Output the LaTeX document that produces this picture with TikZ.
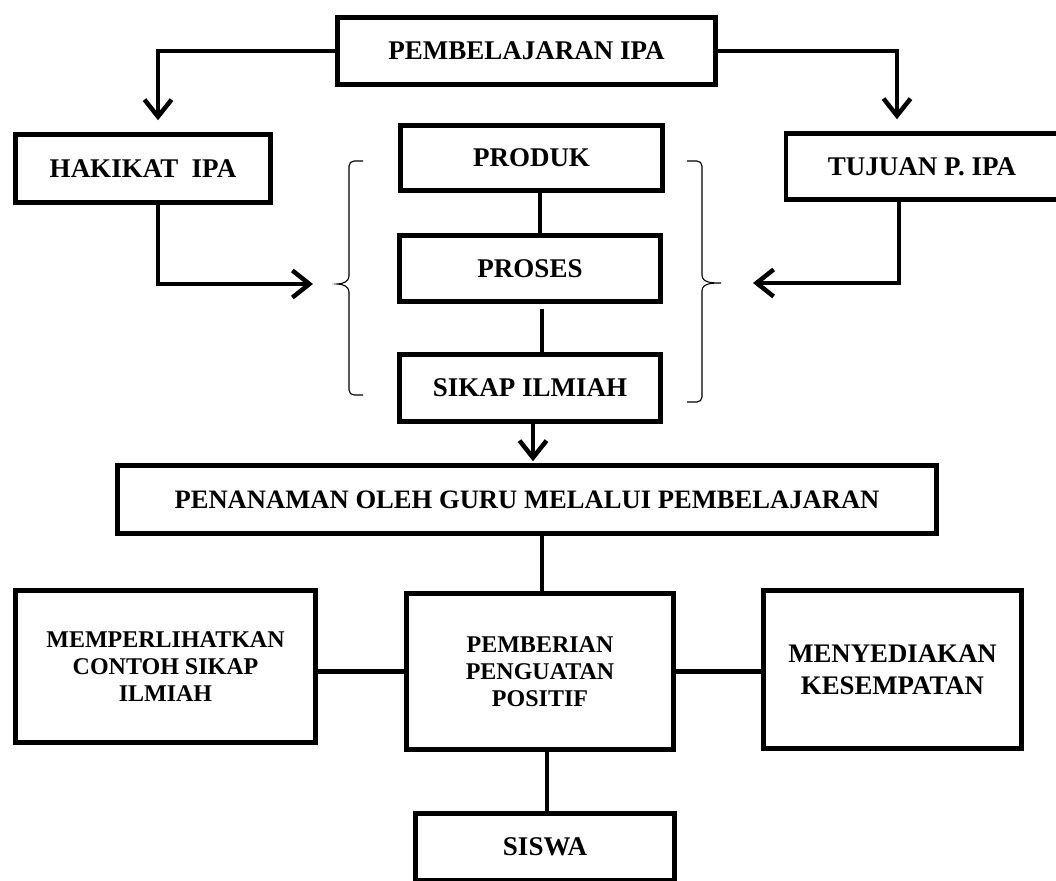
\documentclass[tikz,border=0pt]{standalone}
\usepackage{fontspec}
\setmainfont{Liberation Serif}
\usetikzlibrary{arrows.meta,calc}
\begin{document}
\begin{tikzpicture}[x=1pt,y=-1pt,
  box/.style={draw, line width=4.5pt, inner sep=2pt, align=center,
    font=\bfseries\fontsize{27}{28}\selectfont},
  multibox/.style={box, font=\bfseries\fontsize{24}{27}\selectfont},
  conn/.style={line width=4.5pt},
  arr/.style={conn, -{Straight Barb[length=17pt,width=27pt]}},
  bracestyle/.style={line width=1.1pt}]
\useasboundingbox (0,0) rectangle (1056,880);
% nodes
\node[box, minimum width=378pt, minimum height=67pt] (top) at (526.5,51) {PEMBELAJARAN IPA};
\node[box, minimum width=255pt, minimum height=68pt] (hak) at (143,168.5) {HAKIKAT\ \ IPA};
\node[box, minimum width=272pt, minimum height=66pt] (tuj) at (922,166.5) {TUJUAN P. IPA};
\node[box, minimum width=262pt, minimum height=65pt] (prod) at (531.5,158) {PRODUK};
\node[box, minimum width=261pt, minimum height=66pt] (pros) at (530,268.5) {PROSES};
\node[box, minimum width=261pt, minimum height=67pt] (sikap) at (530,388) {SIKAP ILMIAH};
\node[box, minimum width=819pt, minimum height=68pt, font=\bfseries\fontsize{26.6}{28}\selectfont] (pen) at (527,499.5) {PENANAMAN OLEH GURU MELALUI PEMBELAJARAN};
\node[multibox, minimum width=300pt, minimum height=152pt] (memp) at (165.5,666.5) {MEMPERLIHATKAN\\CONTOH SIKAP\\ILMIAH};
\node[multibox, minimum width=267pt, minimum height=156pt] (pemb) at (540,671.5) {PEMBERIAN\\PENGUATAN\\POSITIF};
\node[box, minimum width=258pt, minimum height=158pt, font=\bfseries\fontsize{26.8}{32}\selectfont] (meny) at (892.5,669.5) {MENYEDIAKAN\\KESEMPATAN};
\node[box, minimum width=259pt, minimum height=67pt] (siswa) at (545,846.75) {SISWA};
% brace tips
\coordinate (lbr) at (337,284);
\coordinate (rbr) at (721,283);
% braces
\draw[bracestyle] (363,161) -- (354,161) to[out=180,in=90] (349,166) -- (349,276)
  to[out=-90,in=0] (lbr) to[out=0,in=90] (349,292) -- (349,390)
  to[out=-90,in=180] (354,395) -- (363,395);
\draw[bracestyle] (687,161) -- (697,161) to[out=0,in=90] (702,166) -- (702,275)
  to[out=-90,in=180] (rbr) to[out=180,in=90] (702,291) -- (702,397)
  to[out=-90,in=0] (697,402) -- (687,402);
% connectors
\draw[arr, shorten >=12pt] (top.west) -| ([xshift=15pt]hak.north);
\draw[arr, shorten >=12pt] (top.east) -| ([xshift=-25pt]tuj.north);
\draw[arr, shorten >=24pt] ([xshift=15pt]hak.south) |- (lbr);
\draw[arr, shorten >=32pt] ([xshift=-23pt]tuj.south) |- (rbr);
\draw[conn] ([xshift=8.5pt]prod.south) -- ([xshift=8.5pt]prod.south |- pros.north);
\draw[conn, shorten <=5pt] ([xshift=12pt]pros.south) -- ([xshift=12pt]pros.south |- sikap.north);
\draw[arr, shorten >=2pt] ([xshift=3pt]sikap.south) -- ([xshift=3pt]sikap.south |- pen.north);
\draw[conn] ([xshift=2pt]pemb.north |- pen.south) -- ([xshift=2pt]pemb.north);
\draw[conn] (memp.east |- pemb.west) -- (pemb.west);
\draw[conn] (pemb.east) -- (pemb.east -| meny.west);
\draw[conn] ([xshift=7pt]pemb.south) -- ([xshift=7pt]pemb.south |- siswa.north);
\end{tikzpicture}
\end{document}
